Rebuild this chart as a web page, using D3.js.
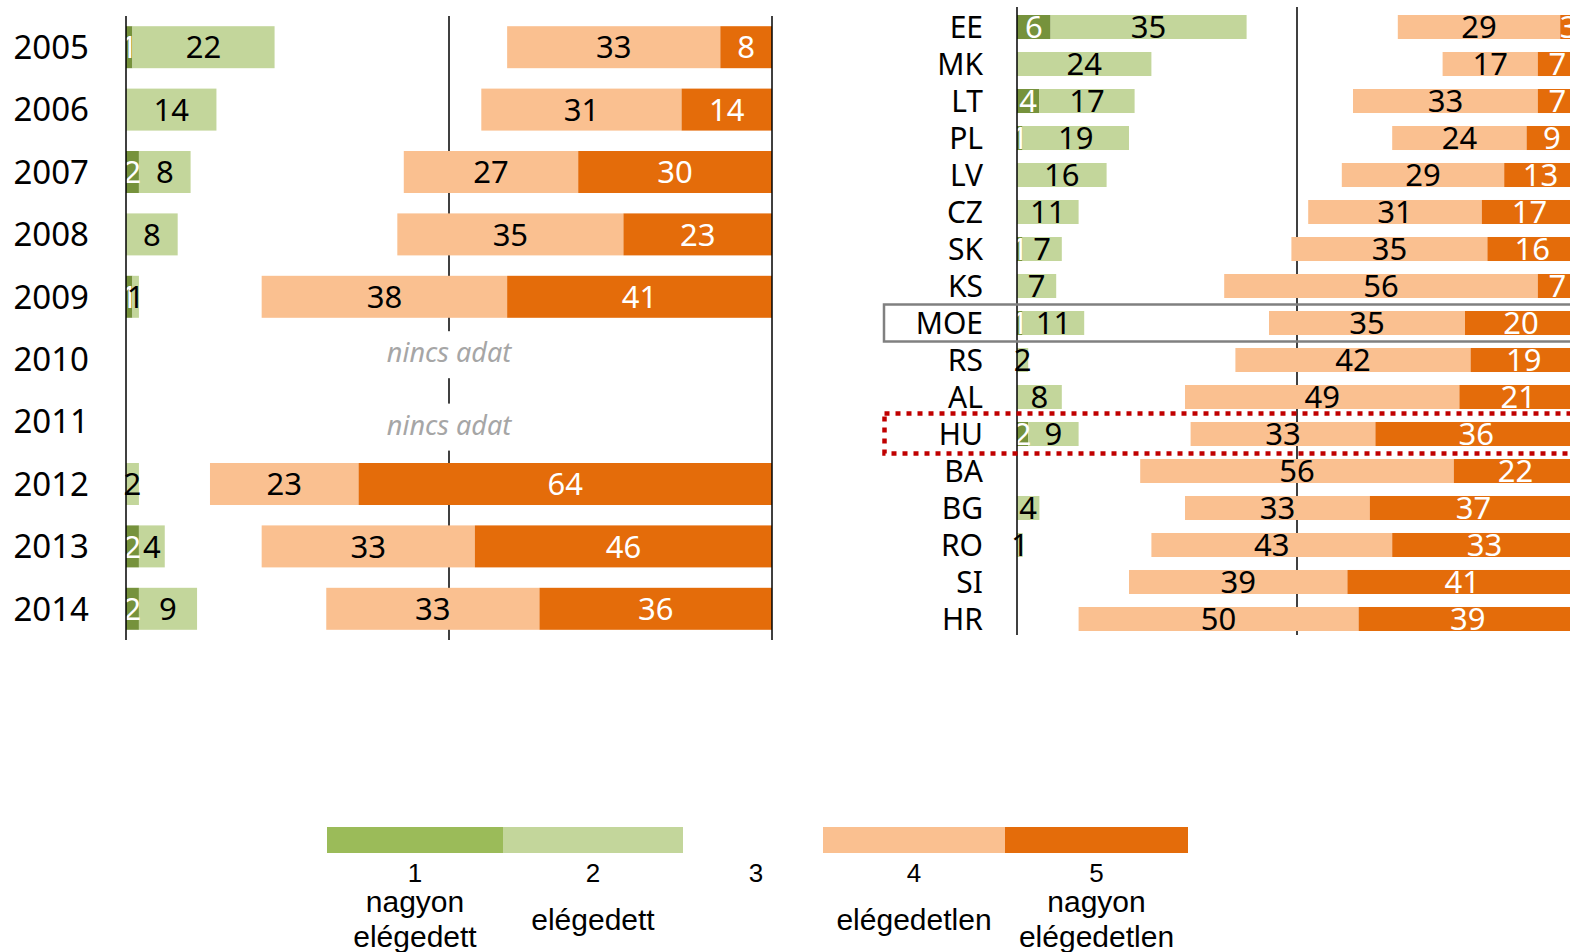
<!DOCTYPE html>
<html lang="hu">
<head>
<meta charset="utf-8">
<title>Elégedettség</title>
<style>
  body { margin: 0; background: #fff; }
  svg { display: block; font-family: 'Noto Sans', sans-serif; }
</style>
</head>
<body>
<svg width="1570" height="952"></svg>
<script src="https://cdn.jsdelivr.net/npm/d3@7/dist/d3.min.js"></script>
<script>
// left panel: years (null = no data)
const years = ['2005', '2006', '2007', '2008', '2009', '2010', '2011', '2012', '2013', '2014'];
const yearVeryGood = [1, 0, 2, 0, 1, null, null, 0, 2, 2];
const yearGood     = [22, 14, 8, 8, 1, null, null, 2, 4, 9];
const yearBad      = [33, 31, 27, 35, 38, null, null, 23, 33, 33];
const yearVeryBad  = [8, 14, 30, 23, 41, null, null, 64, 46, 36];

// right panel: countries
const countries = ['EE', 'MK', 'LT', 'PL', 'LV', 'CZ', 'SK', 'KS', 'MOE', 'RS', 'AL', 'HU', 'BA', 'BG', 'RO', 'SI', 'HR'];
const cVeryGood = [6, 0, 4, 1, 0, 0, 1, 0, 1, 0, 0, 2, 0, 0, 0, 0, 0];
const cGood     = [35, 24, 17, 19, 16, 11, 7, 7, 11, 2, 8, 9, 0, 4, 1, 0, 0];
const cBad      = [29, 17, 33, 24, 29, 31, 35, 56, 35, 42, 49, 33, 56, 33, 43, 39, 50];
const cVeryBad  = [3, 7, 7, 9, 13, 17, 16, 7, 20, 19, 21, 36, 22, 37, 33, 41, 39];

const legendNums = ['1', '2', '3', '4', '5'];
const legendLabels = [['nagyon', 'elégedett'], ['elégedett'], [], ['elégedetlen'], ['nagyon', 'elégedetlen']];
const noDataText = 'nincs adat';

const colors = ['#76923C', '#C3D69B', null, '#FAC090', '#E46C0A'];
const legendColors = ['#9BBB59', '#C3D69B', null, '#FAC090', '#E46C0A'];
const textColors = ['#fff', '#000', null, '#000', '#fff'];

const svg = d3.select('svg');

function segments(vg, g, b, vb) {
  const s = [];
  if (vg) s.push({ x0: 0, x1: vg, v: vg, k: 0 });
  if (g) s.push({ x0: vg, x1: vg + g, v: g, k: 1 });
  if (b) s.push({ x0: 100 - b - vb, x1: 100 - vb, v: b, k: 3 });
  if (vb) s.push({ x0: 100 - vb, x1: 100, v: vb, k: 4 });
  return s;
}

function drawPanel(opts) {
  const { cats, a1, a2, a4, a5, x, y, top, bottom, labelX, labelSize, withRight } = opts;
  const g = svg.append('g');

  // gridline at the middle, behind bars
  g.append('line')
    .attr('x1', x(50)).attr('x2', x(50))
    .attr('y1', top).attr('y2', bottom)
    .attr('stroke', '#000').attr('stroke-width', 1.5);

  let noData = 0;
  const rows = g.selectAll('g.row')
    .data(cats.map((c, i) => ({ c, i, segs: a1[i] === null ? null : segments(a1[i], a2[i], a4[i], a5[i]) })))
    .enter().append('g').attr('class', 'row');

  rows.each(function(d) {
    const row = d3.select(this);
    const yc = y(d.c) + y.bandwidth() / 2;
    if (d.segs === null) {
      // the two "no data" boxes sit a bit apart from the row centres
      const ty = yc + (noData++ === 0 ? -5 : 5);
      const t = row.append('text')
        .attr('x', x(50)).attr('y', ty)
        .attr('dy', '0.3em')
        .attr('text-anchor', 'middle')
        .attr('font-size', 27).attr('font-style', 'italic')
        .attr('fill', '#A6A6A6')
        .text(noDataText);
      const bb = t.node().getBBox();
      row.insert('rect', 'text')
        .attr('x', bb.x - 4).attr('y', ty - 23)
        .attr('width', bb.width + 8).attr('height', 47)
        .attr('fill', '#fff');
      return;
    }
    row.selectAll('rect')
      .data(d.segs).enter().append('rect')
      .attr('x', s => x(s.x0))
      .attr('y', y(d.c))
      .attr('width', s => x(s.x1) - x(s.x0))
      .attr('height', y.bandwidth())
      .attr('fill', s => colors[s.k]);
    row.selectAll('text.val')
      .data(d.segs).enter().append('text')
      .attr('class', 'val')
      .attr('x', s => (x(s.x0) + x(s.x1)) / 2)
      .attr('y', yc)
      .attr('dy', '0.36em')
      .attr('text-anchor', 'middle')
      .attr('font-size', 31)
      .attr('fill', s => textColors[s.k])
      .text(s => s.v);
  });

  // category labels
  g.selectAll('text.cat')
    .data(cats).enter().append('text')
    .attr('class', 'cat')
    .attr('x', labelX)
    .attr('y', c => y(c) + y.bandwidth() / 2)
    .attr('dy', '0.36em')
    .attr('text-anchor', 'end')
    .attr('font-size', labelSize)
    .attr('fill', '#000')
    .text(c => c);

  // axis lines on top
  const axisXs = withRight ? [0, 100] : [0];
  g.selectAll('line.ax')
    .data(axisXs).enter().append('line')
    .attr('class', 'ax')
    .attr('x1', v => x(v)).attr('x2', v => x(v))
    .attr('y1', top).attr('y2', bottom)
    .attr('stroke', '#000').attr('stroke-width', 1.5);
  return g;
}

// left panel
const xL = d3.scaleLinear().domain([0, 100]).range([126, 772]);
const yL = d3.scaleBand().domain(years).range([16, 640]).paddingInner(0.327).paddingOuter(0.1635);
drawPanel({ cats: years, a1: yearVeryGood, a2: yearGood, a4: yearBad, a5: yearVeryBad,
  x: xL, y: yL, top: 16, bottom: 640, labelX: 89, labelSize: 33, withRight: true });

// right panel
const xR = d3.scaleLinear().domain([0, 100]).range([1017, 1577]);
const yR = d3.scaleBand().domain(countries).range([8.5, 637.5]).paddingInner(0.351).paddingOuter(0.1757);
drawPanel({ cats: countries, a1: cVeryGood, a2: cGood, a4: cBad, a5: cVeryBad,
  x: xR, y: yR, top: 7, bottom: 635, labelX: 983, labelSize: 30, withRight: false });

// highlight boxes
const moeC = yR('MOE') + yR.bandwidth() / 2;
svg.append('rect')
  .attr('x', 884).attr('y', moeC - 18.5)
  .attr('width', 800).attr('height', 37)
  .attr('fill', 'none').attr('stroke', '#808080').attr('stroke-width', 2.5);
const huC = yR('HU') + yR.bandwidth() / 2;
svg.append('rect')
  .attr('x', 884.5).attr('y', huC - 20.5)
  .attr('width', 800).attr('height', 40)
  .attr('fill', 'none').attr('stroke', '#C00000').attr('stroke-width', 4.5)
  .attr('stroke-dasharray', '5 6');

// legend
const legendEdges = [327, 503, 683, 823, 1005, 1188];
const legend = svg.append('g').attr('font-family', "'Liberation Sans', Arial, sans-serif");
legendNums.forEach((n, i) => {
  const x0 = legendEdges[i], x1 = legendEdges[i + 1], cx = (x0 + x1) / 2;
  if (legendColors[i]) {
    legend.append('rect')
      .attr('x', x0).attr('y', 827)
      .attr('width', x1 - x0).attr('height', 26)
      .attr('fill', legendColors[i]);
  }
  legend.append('text')
    .attr('x', cx + (i === 2 ? 3 : 0)).attr('y', 882)
    .attr('text-anchor', 'middle').attr('font-size', 26)
    .text(n);
  const lines = legendLabels[i];
  const baselines = lines.length === 2 ? [912, 947] : [930];
  lines.forEach((l, j) => {
    legend.append('text')
      .attr('x', cx).attr('y', baselines[j])
      .attr('text-anchor', 'middle').attr('font-size', 30)
      .text(l);
  });
});
</script>
</body>
</html>
